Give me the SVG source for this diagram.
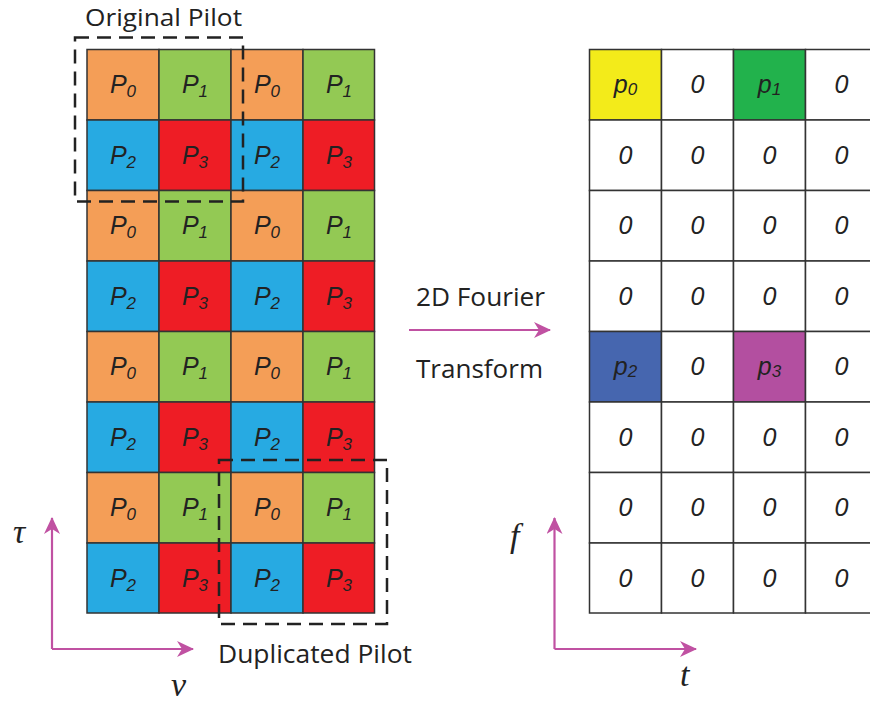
<svg xmlns="http://www.w3.org/2000/svg" width="870" height="703" viewBox="0 0 870 703">
<style>
.c{stroke:#333;stroke-width:1.5}
.or{fill:#F49E57}.gr{fill:#93C954}.bl{fill:#27AAE2}.rd{fill:#EE1D25}
.ye{fill:#F3EB1A}.dg{fill:#22B24C}.db{fill:#4666AF}.pu{fill:#B34FA0}.wh{fill:#fff}
.t{font-family:"Liberation Sans",Arial,sans-serif;font-style:italic;font-size:25px;fill:#222;text-anchor:middle}
.s{font-size:17px}
.lab{font-family:"Open Sans","Liberation Sans",sans-serif;font-size:26px;fill:#222}
.gk{font-family:"Liberation Serif","DejaVu Serif",serif;font-style:italic;font-size:34px;fill:#222}
.dash{fill:none;stroke:#222;stroke-width:2.5;stroke-dasharray:14 8}
.ax{fill:none;stroke:#C051A2;stroke-width:2.2}
</style>
<defs>
<marker id="ah" markerUnits="userSpaceOnUse" markerWidth="18" markerHeight="16" refX="16" refY="8" orient="auto">
<path d="M0,0 L17,8 L0,16 L5,8 Z" fill="#C051A2"/>
</marker>
</defs>

<g id="left-grid">
<g id="L00"><rect class="c or" x="87" y="49.5" width="72" height="70.5"/><text class="t" x="123" y="93">P<tspan class="s" dy="4">0</tspan></text></g>
<g id="L01"><rect class="c gr" x="159" y="49.5" width="72" height="70.5"/><text class="t" x="195" y="93">P<tspan class="s" dy="4">1</tspan></text></g>
<g id="L02"><rect class="c or" x="231" y="49.5" width="72" height="70.5"/><text class="t" x="267" y="93">P<tspan class="s" dy="4">0</tspan></text></g>
<g id="L03"><rect class="c gr" x="303" y="49.5" width="71.5" height="70.5"/><text class="t" x="339" y="93">P<tspan class="s" dy="4">1</tspan></text></g>

<g id="L10"><rect class="c bl" x="87" y="120" width="72" height="70.5"/><text class="t" x="123" y="163.5">P<tspan class="s" dy="4">2</tspan></text></g>
<g id="L11"><rect class="c rd" x="159" y="120" width="72" height="70.5"/><text class="t" x="195" y="163.5">P<tspan class="s" dy="4">3</tspan></text></g>
<g id="L12"><rect class="c bl" x="231" y="120" width="72" height="70.5"/><text class="t" x="267" y="163.5">P<tspan class="s" dy="4">2</tspan></text></g>
<g id="L13"><rect class="c rd" x="303" y="120" width="71.5" height="70.5"/><text class="t" x="339" y="163.5">P<tspan class="s" dy="4">3</tspan></text></g>

<g id="L20"><rect class="c or" x="87" y="190.5" width="72" height="70.5"/><text class="t" x="123" y="234">P<tspan class="s" dy="4">0</tspan></text></g>
<g id="L21"><rect class="c gr" x="159" y="190.5" width="72" height="70.5"/><text class="t" x="195" y="234">P<tspan class="s" dy="4">1</tspan></text></g>
<g id="L22"><rect class="c or" x="231" y="190.5" width="72" height="70.5"/><text class="t" x="267" y="234">P<tspan class="s" dy="4">0</tspan></text></g>
<g id="L23"><rect class="c gr" x="303" y="190.5" width="71.5" height="70.5"/><text class="t" x="339" y="234">P<tspan class="s" dy="4">1</tspan></text></g>

<g id="L30"><rect class="c bl" x="87" y="261" width="72" height="70.5"/><text class="t" x="123" y="304.5">P<tspan class="s" dy="4">2</tspan></text></g>
<g id="L31"><rect class="c rd" x="159" y="261" width="72" height="70.5"/><text class="t" x="195" y="304.5">P<tspan class="s" dy="4">3</tspan></text></g>
<g id="L32"><rect class="c bl" x="231" y="261" width="72" height="70.5"/><text class="t" x="267" y="304.5">P<tspan class="s" dy="4">2</tspan></text></g>
<g id="L33"><rect class="c rd" x="303" y="261" width="71.5" height="70.5"/><text class="t" x="339" y="304.5">P<tspan class="s" dy="4">3</tspan></text></g>

<g id="L40"><rect class="c or" x="87" y="331.5" width="72" height="70.5"/><text class="t" x="123" y="375">P<tspan class="s" dy="4">0</tspan></text></g>
<g id="L41"><rect class="c gr" x="159" y="331.5" width="72" height="70.5"/><text class="t" x="195" y="375">P<tspan class="s" dy="4">1</tspan></text></g>
<g id="L42"><rect class="c or" x="231" y="331.5" width="72" height="70.5"/><text class="t" x="267" y="375">P<tspan class="s" dy="4">0</tspan></text></g>
<g id="L43"><rect class="c gr" x="303" y="331.5" width="71.5" height="70.5"/><text class="t" x="339" y="375">P<tspan class="s" dy="4">1</tspan></text></g>

<g id="L50"><rect class="c bl" x="87" y="402" width="72" height="70.5"/><text class="t" x="123" y="445.5">P<tspan class="s" dy="4">2</tspan></text></g>
<g id="L51"><rect class="c rd" x="159" y="402" width="72" height="70.5"/><text class="t" x="195" y="445.5">P<tspan class="s" dy="4">3</tspan></text></g>
<g id="L52"><rect class="c bl" x="231" y="402" width="72" height="70.5"/><text class="t" x="267" y="445.5">P<tspan class="s" dy="4">2</tspan></text></g>
<g id="L53"><rect class="c rd" x="303" y="402" width="71.5" height="70.5"/><text class="t" x="339" y="445.5">P<tspan class="s" dy="4">3</tspan></text></g>

<g id="L60"><rect class="c or" x="87" y="472.5" width="72" height="70.5"/><text class="t" x="123" y="516">P<tspan class="s" dy="4">0</tspan></text></g>
<g id="L61"><rect class="c gr" x="159" y="472.5" width="72" height="70.5"/><text class="t" x="195" y="516">P<tspan class="s" dy="4">1</tspan></text></g>
<g id="L62"><rect class="c or" x="231" y="472.5" width="72" height="70.5"/><text class="t" x="267" y="516">P<tspan class="s" dy="4">0</tspan></text></g>
<g id="L63"><rect class="c gr" x="303" y="472.5" width="71.5" height="70.5"/><text class="t" x="339" y="516">P<tspan class="s" dy="4">1</tspan></text></g>

<g id="L70"><rect class="c bl" x="87" y="543" width="72" height="70"/><text class="t" x="123" y="586.5">P<tspan class="s" dy="4">2</tspan></text></g>
<g id="L71"><rect class="c rd" x="159" y="543" width="72" height="70"/><text class="t" x="195" y="586.5">P<tspan class="s" dy="4">3</tspan></text></g>
<g id="L72"><rect class="c bl" x="231" y="543" width="72" height="70"/><text class="t" x="267" y="586.5">P<tspan class="s" dy="4">2</tspan></text></g>
<g id="L73"><rect class="c rd" x="303" y="543" width="71.5" height="70"/><text class="t" x="339" y="586.5">P<tspan class="s" dy="4">3</tspan></text></g>
</g>

<g id="right-grid">
<g id="R00"><rect class="c ye" x="589.5" y="49.5" width="72" height="70.5"/><text class="t" x="625.5" y="93">p<tspan class="s" dy="2">0</tspan></text></g>
<g id="R01"><rect class="c wh" x="661.5" y="49.5" width="72" height="70.5"/><text class="t" x="697.5" y="93">0</text></g>
<g id="R02"><rect class="c dg" x="733.5" y="49.5" width="72" height="70.5"/><text class="t" x="769.5" y="93">p<tspan class="s" dy="2">1</tspan></text></g>
<g id="R03"><rect class="c wh" x="805.5" y="49.5" width="72" height="70.5"/><text class="t" x="841.5" y="93">0</text></g>

<g id="R10"><rect class="c wh" x="589.5" y="120" width="72" height="70.5"/><text class="t" x="625.5" y="163.5">0</text></g>
<g id="R11"><rect class="c wh" x="661.5" y="120" width="72" height="70.5"/><text class="t" x="697.5" y="163.5">0</text></g>
<g id="R12"><rect class="c wh" x="733.5" y="120" width="72" height="70.5"/><text class="t" x="769.5" y="163.5">0</text></g>
<g id="R13"><rect class="c wh" x="805.5" y="120" width="72" height="70.5"/><text class="t" x="841.5" y="163.5">0</text></g>

<g id="R20"><rect class="c wh" x="589.5" y="190.5" width="72" height="70.5"/><text class="t" x="625.5" y="234">0</text></g>
<g id="R21"><rect class="c wh" x="661.5" y="190.5" width="72" height="70.5"/><text class="t" x="697.5" y="234">0</text></g>
<g id="R22"><rect class="c wh" x="733.5" y="190.5" width="72" height="70.5"/><text class="t" x="769.5" y="234">0</text></g>
<g id="R23"><rect class="c wh" x="805.5" y="190.5" width="72" height="70.5"/><text class="t" x="841.5" y="234">0</text></g>

<g id="R30"><rect class="c wh" x="589.5" y="261" width="72" height="70.5"/><text class="t" x="625.5" y="304.5">0</text></g>
<g id="R31"><rect class="c wh" x="661.5" y="261" width="72" height="70.5"/><text class="t" x="697.5" y="304.5">0</text></g>
<g id="R32"><rect class="c wh" x="733.5" y="261" width="72" height="70.5"/><text class="t" x="769.5" y="304.5">0</text></g>
<g id="R33"><rect class="c wh" x="805.5" y="261" width="72" height="70.5"/><text class="t" x="841.5" y="304.5">0</text></g>

<g id="R40"><rect class="c db" x="589.5" y="331.5" width="72" height="70.5"/><text class="t" x="625.5" y="375">p<tspan class="s" dy="2">2</tspan></text></g>
<g id="R41"><rect class="c wh" x="661.5" y="331.5" width="72" height="70.5"/><text class="t" x="697.5" y="375">0</text></g>
<g id="R42"><rect class="c pu" x="733.5" y="331.5" width="72" height="70.5"/><text class="t" x="769.5" y="375">p<tspan class="s" dy="2">3</tspan></text></g>
<g id="R43"><rect class="c wh" x="805.5" y="331.5" width="72" height="70.5"/><text class="t" x="841.5" y="375">0</text></g>

<g id="R50"><rect class="c wh" x="589.5" y="402" width="72" height="70.5"/><text class="t" x="625.5" y="445.5">0</text></g>
<g id="R51"><rect class="c wh" x="661.5" y="402" width="72" height="70.5"/><text class="t" x="697.5" y="445.5">0</text></g>
<g id="R52"><rect class="c wh" x="733.5" y="402" width="72" height="70.5"/><text class="t" x="769.5" y="445.5">0</text></g>
<g id="R53"><rect class="c wh" x="805.5" y="402" width="72" height="70.5"/><text class="t" x="841.5" y="445.5">0</text></g>

<g id="R60"><rect class="c wh" x="589.5" y="472.5" width="72" height="70.5"/><text class="t" x="625.5" y="516">0</text></g>
<g id="R61"><rect class="c wh" x="661.5" y="472.5" width="72" height="70.5"/><text class="t" x="697.5" y="516">0</text></g>
<g id="R62"><rect class="c wh" x="733.5" y="472.5" width="72" height="70.5"/><text class="t" x="769.5" y="516">0</text></g>
<g id="R63"><rect class="c wh" x="805.5" y="472.5" width="72" height="70.5"/><text class="t" x="841.5" y="516">0</text></g>

<g id="R70"><rect class="c wh" x="589.5" y="543" width="72" height="70"/><text class="t" x="625.5" y="586.5">0</text></g>
<g id="R71"><rect class="c wh" x="661.5" y="543" width="72" height="70"/><text class="t" x="697.5" y="586.5">0</text></g>
<g id="R72"><rect class="c wh" x="733.5" y="543" width="72" height="70"/><text class="t" x="769.5" y="586.5">0</text></g>
<g id="R73"><rect class="c wh" x="805.5" y="543" width="72" height="70"/><text class="t" x="841.5" y="586.5">0</text></g>
</g>

<g id="original-pilot">
<rect class="dash" x="75" y="37.5" width="168" height="164"/>
<text class="lab" x="85" y="26" style="font-size:24px" textLength="157" lengthAdjust="spacingAndGlyphs">Original Pilot</text>
</g>
<g id="duplicated-pilot">
<rect class="dash" x="219" y="460" width="168" height="164"/>
<text class="lab" x="218" y="663" textLength="194" lengthAdjust="spacingAndGlyphs">Duplicated Pilot</text>
</g>

<g id="transform-label">
<text class="lab" x="416" y="306" textLength="129" lengthAdjust="spacingAndGlyphs">2D Fourier</text>
<text class="lab" x="416" y="378" textLength="127" lengthAdjust="spacingAndGlyphs">Transform</text>
</g>

<g id="connectors">
<path class="ax" d="M409,330 H550" marker-end="url(#ah)"/>
<path class="ax" d="M52,649 V518" marker-end="url(#ah)"/>
<path class="ax" d="M52,649 H193" marker-end="url(#ah)"/>
<path class="ax" d="M554.5,649 V518" marker-end="url(#ah)"/>
<path class="ax" d="M554.5,649 H696" marker-end="url(#ah)"/>
</g>

<g id="axis-labels">
<text class="gk" x="13" y="543">τ</text>
<text class="gk" x="171" y="696">ν</text>
<text class="gk" x="510" y="547">f</text>
<text class="gk" x="680" y="686">t</text>
</g>
</svg>
